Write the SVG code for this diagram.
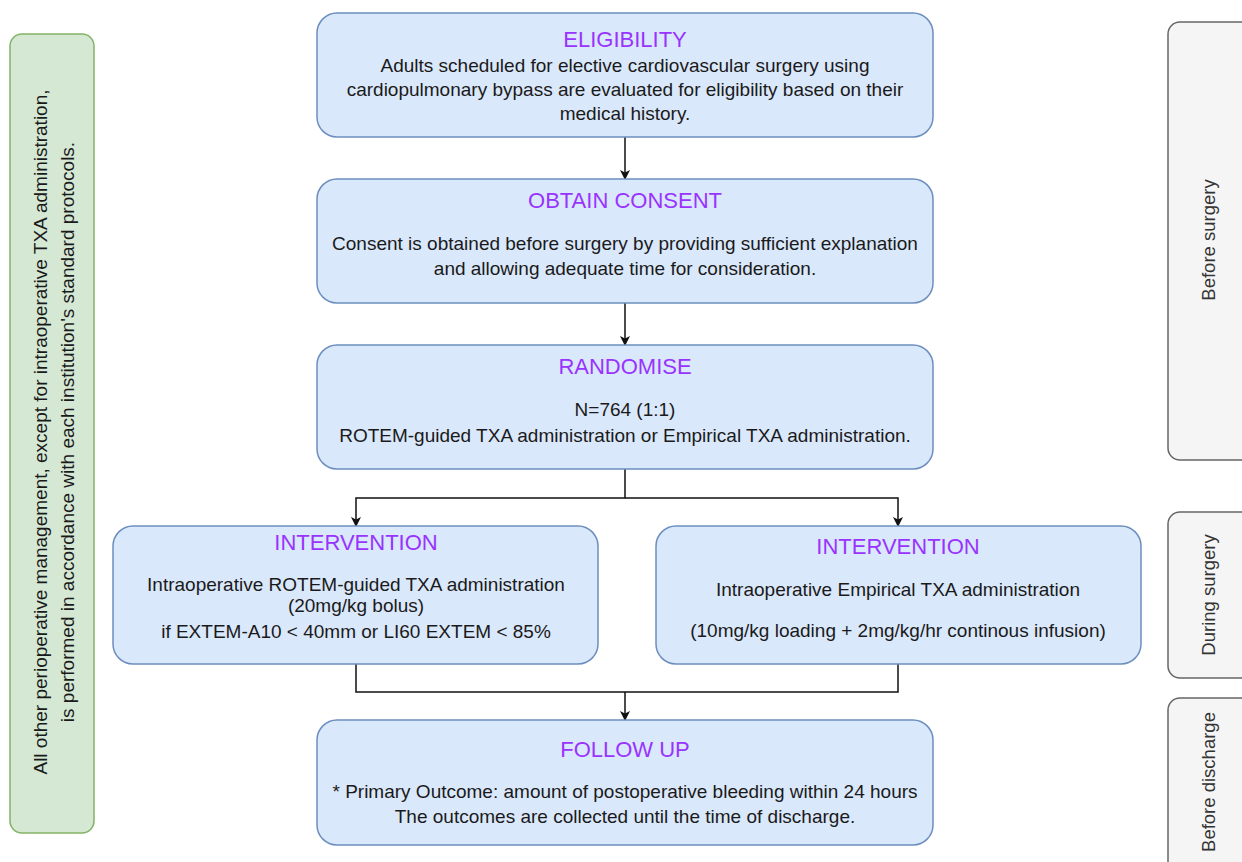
<svg xmlns="http://www.w3.org/2000/svg" width="1242" height="862" viewBox="0 0 1242 862">
<style>
.box{fill:#dae8fc;stroke:#6c8ebf;stroke-width:1.5}
.side{fill:#d5e8d4;stroke:#82b366;stroke-width:1.5}
.phase{fill:#f5f5f5;stroke:#666666;stroke-width:1.5}
.t{font-family:"Liberation Sans",Arial,sans-serif;text-anchor:middle}
.title{font-size:22px;fill:#9933ff}
.body{font-size:19px;fill:#1a1a1a}
.ph{font-size:18.5px;fill:#333333}
.conn{fill:none;stroke:#111111;stroke-width:1.5}
</style>
<defs>
<marker id="arr" markerWidth="10" markerHeight="10" refX="9" refY="5" orient="auto" markerUnits="userSpaceOnUse">
<path d="M0,0 L10,5 L0,10 L2.5,5 Z" fill="#111111"/>
</marker>
</defs>
<rect width="1242" height="862" fill="#ffffff"/>

<g id="side-note">
<rect class="side" x="10" y="34" width="84" height="799" rx="12"/>
<text class="t body" transform="translate(47,432) rotate(-90)">All other perioperative management, except for intraoperative TXA administration,</text>
<text class="t body" transform="translate(74,432) rotate(-90)">is performed in accordance with each institution's standard protocols.</text>
</g>

<g id="phase-before-surgery">
<rect class="phase" x="1168" y="22" width="90" height="438" rx="12"/>
<text class="t ph" transform="translate(1215,240) rotate(-90)">Before surgery</text>
</g>
<g id="phase-during-surgery">
<rect class="phase" x="1168" y="512" width="90" height="166" rx="12"/>
<text class="t ph" transform="translate(1215,595) rotate(-90)">During surgery</text>
</g>
<g id="phase-before-discharge">
<rect class="phase" x="1168" y="698" width="90" height="180" rx="12"/>
<text class="t ph" transform="translate(1215,782) rotate(-90)">Before discharge</text>
</g>

<g id="connectors">
<line class="conn" x1="625" y1="137" x2="625" y2="179" marker-end="url(#arr)"/>
<line class="conn" x1="625" y1="303" x2="625" y2="345" marker-end="url(#arr)"/>
<polyline class="conn" points="625,469 625,498 356,498 356,526" marker-end="url(#arr)"/>
<polyline class="conn" points="625,498 898,498 898,526" marker-end="url(#arr)"/>
<polyline class="conn" points="356,664 356,692 898,692 898,664"/>
<line class="conn" x1="625" y1="692" x2="625" y2="720" marker-end="url(#arr)"/>
</g>

<g id="eligibility">
<rect class="box" x="317" y="13" width="616" height="124" rx="20"/>
<text class="t title" x="625" y="47">ELIGIBILITY</text>
<text class="t body" x="625" y="72">Adults scheduled for elective cardiovascular surgery using</text>
<text class="t body" x="625" y="96">cardiopulmonary bypass are evaluated for eligibility based on their</text>
<text class="t body" x="625" y="120">medical history.</text>
</g>

<g id="consent">
<rect class="box" x="317" y="179" width="616" height="124" rx="20"/>
<text class="t title" x="625" y="208">OBTAIN CONSENT</text>
<text class="t body" x="625" y="250">Consent is obtained before surgery by providing sufficient explanation</text>
<text class="t body" x="625" y="275">and allowing adequate time for consideration.</text>
</g>

<g id="randomise">
<rect class="box" x="317" y="345" width="616" height="124" rx="20"/>
<text class="t title" x="625" y="374">RANDOMISE</text>
<text class="t body" x="625" y="416">N=764 (1:1)</text>
<text class="t body" x="625" y="442">ROTEM-guided TXA administration or Empirical TXA administration.</text>
</g>

<g id="intervention-rotem">
<rect class="box" x="113" y="526" width="485" height="138" rx="20"/>
<text class="t title" x="356" y="550">INTERVENTION</text>
<text class="t body" x="356" y="591">Intraoperative ROTEM-guided TXA administration</text>
<text class="t body" x="356" y="612">(20mg/kg bolus)</text>
<text class="t body" x="356" y="638">if EXTEM-A10 &lt; 40mm or LI60 EXTEM &lt; 85%</text>
</g>

<g id="intervention-empirical">
<rect class="box" x="656" y="526" width="485" height="138" rx="20"/>
<text class="t title" x="898" y="554">INTERVENTION</text>
<text class="t body" x="898" y="596">Intraoperative Empirical TXA administration</text>
<text class="t body" x="898" y="637">(10mg/kg loading + 2mg/kg/hr continous infusion)</text>
</g>

<g id="follow-up">
<rect class="box" x="317" y="720" width="616" height="125" rx="20"/>
<text class="t title" x="625" y="757">FOLLOW UP</text>
<text class="t body" x="625" y="798">* Primary Outcome: amount of postoperative bleeding within 24 hours</text>
<text class="t body" x="625" y="823">The outcomes are collected until the time of discharge.</text>
</g>
</svg>
